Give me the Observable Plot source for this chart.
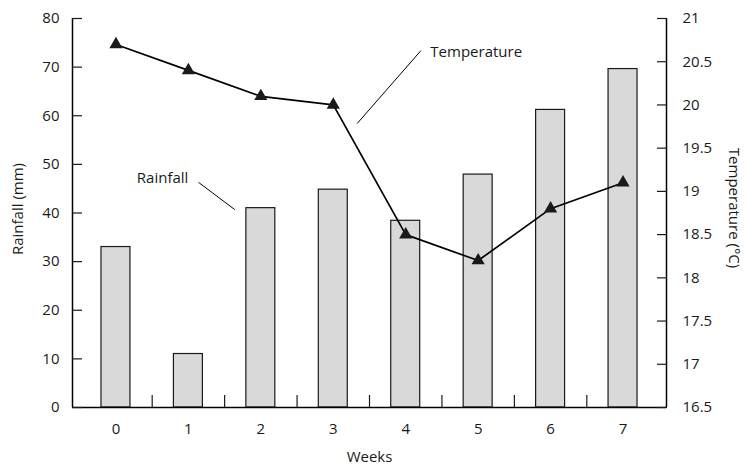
<!DOCTYPE html>
<html><head><meta charset="utf-8">
<script src="https://cdn.jsdelivr.net/npm/d3@7"></script>
<script src="https://cdn.jsdelivr.net/npm/@observablehq/plot@0.6"></script>
<style>body{margin:0;background:#fff}</style>
</head><body><div id="chart"></div>
<script>
const weeks = [0, 1, 2, 3, 4, 5, 6, 7];
const rainfall = [33, 11, 41, 44.8, 38.4, 47.9, 61.2, 69.6];
const temperature = [20.7, 20.4, 20.1, 20.0, 18.5, 18.2, 18.8, 19.1];
const rainTicks = [0, 10, 20, 30, 40, 50, 60, 70, 80];
const tempTicks = [16.5, 17, 17.5, 18, 18.5, 19, 19.5, 20, 20.5, 21];
const weekBoundaries = [0.5, 1.5, 2.5, 3.5, 4.5, 5.5, 6.5];
// annotation labels (x in weeks, y in rainfall units)
const labelText = ["Temperature", "Rainfall"];
const labelX = [4.34, 1.0];
const labelY = [73.1, 47.1];
const leaderX1 = [3.33, 1.14];
const leaderY1 = [58.4, 46.3];
const leaderX2 = [4.21, 1.64];
const leaderY2 = [73.4, 40.7];

const tMin = 16.5, tMax = 21, rMin = 0, rMax = 80;
const t2r = t => rMin + (t - tMin) * (rMax - rMin) / (tMax - tMin);
const r2t = r => tMin + (r - rMin) * (tMax - tMin) / (rMax - rMin);

const data = weeks.map((w, i) => ({week: w, rain: rainfall[i], temp: temperature[i]}));
const leaders = leaderX1.map((_, i) => ({x1: leaderX1[i], y1: leaderY1[i], x2: leaderX2[i], y2: leaderY2[i]}));

const font = 15;
const chart = Plot.plot({
  width: 746,
  height: 465,
  marginTop: 18,
  marginBottom: 58,
  marginLeft: 72,
  marginRight: 80,
  style: {fontFamily: "'Open Sans', sans-serif", fontSize: font + "px", color: "#1a1a1a", background: "#fff"},
  x: {domain: [-0.6, 7.6], axis: null},
  y: {domain: [rMin, rMax], axis: null},
  marks: [
    Plot.rectY(data, {x1: d => d.week - 0.2, x2: d => d.week + 0.2, y1: 0, y2: "rain", fill: "#d9d9d9", stroke: "#1a1a1a", strokeWidth: 1.2}),
    Plot.ruleX([-0.6], {stroke: "#000", strokeWidth: 1.5}),
    Plot.ruleX([7.6], {stroke: "#000", strokeWidth: 1.5}),
    Plot.ruleY([0], {stroke: "#000", strokeWidth: 1.5}),
    Plot.axisY({anchor: "left", ticks: rainTicks, tickSize: -10, tickPadding: 23, fontSize: font, strokeWidth: 1.2}),
    Plot.axisY({anchor: "right", ticks: tempTicks.map(t2r), tickFormat: v => String(Math.round(r2t(v) * 10) / 10), tickSize: -10, tickPadding: 26, fontSize: font, strokeWidth: 1.2}),
    Plot.axisX({anchor: "bottom", ticks: weeks, tickSize: 0, tickPadding: 16, fontSize: font}),
    Plot.axisX({anchor: "bottom", ticks: weekBoundaries, tickSize: -12, tickFormat: () => "", strokeWidth: 1.2}),
    Plot.line(data, {x: "week", y: d => t2r(d.temp), stroke: "#000", strokeWidth: 1.7}),
    Plot.dot(data, {x: "week", y: d => t2r(d.temp), symbol: "triangle", r: 4.9, fill: "#1a1a1a", stroke: "none"}),
    Plot.link(leaders, {x1: "x1", y1: "y1", x2: "x2", y2: "y2", stroke: "#000", strokeWidth: 1}),
    Plot.text([labelText[0]], {x: [labelX[0]], y: [labelY[0]], textAnchor: "start", fontSize: font}),
    Plot.text([labelText[1]], {x: [labelX[1]], y: [labelY[1]], textAnchor: "end", fontSize: font}),
    Plot.text(["Rainfall (mm)"], {frameAnchor: "left", textAnchor: "middle", dx: -54, dy: -4, rotate: -90, fontSize: font}),
    Plot.text(["Temperature (°C)"], {frameAnchor: "right", textAnchor: "middle", dx: 67, dy: -5, rotate: 90, fontSize: font}),
    Plot.text(["Weeks"], {frameAnchor: "bottom", textAnchor: "middle", dy: 54, fontSize: font})
  ]
});
document.getElementById("chart").appendChild(chart);
</script>
</body></html>
